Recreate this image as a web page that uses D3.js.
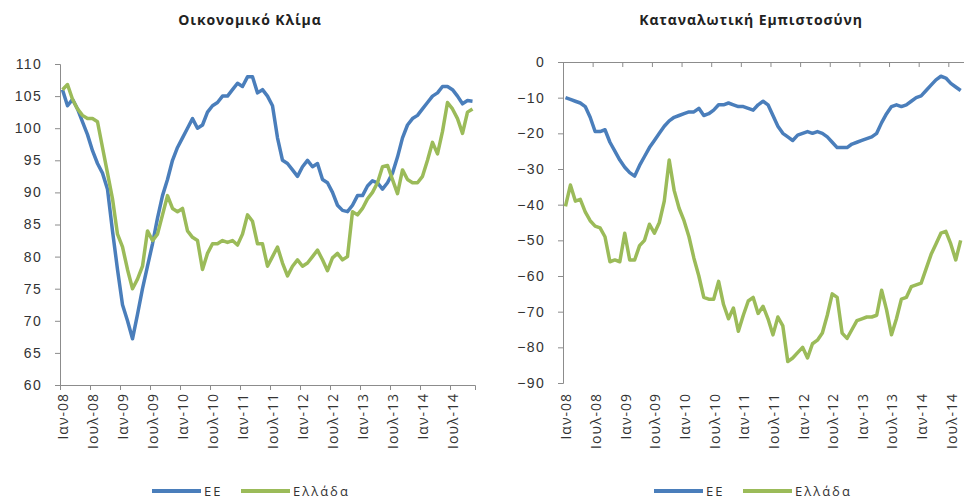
<!DOCTYPE html>
<html lang="el">
<head>
<meta charset="utf-8">
<title>Οικονομικό Κλίμα - Καταναλωτική Εμπιστοσύνη</title>
<script src="https://cdn.jsdelivr.net/npm/d3@7"></script>
<style>
    body { margin: 0; background: #fff; }
    svg { display: block; font-family: "Open Sans", "DejaVu Sans", sans-serif; }
    .title { font-weight: bold; font-size: 14px; fill: #222; letter-spacing: 0.9px; }
    .tick text { font-size: 14px; fill: #333; letter-spacing: 1.3px; }
    .domain, .tick line { stroke: #8c8c8c; }
    .xlab { font-size: 14px; fill: #333; letter-spacing: 1px; }
    .leg { font-size: 13px; fill: #333; letter-spacing: 2px; }
</style>
</head>
<body>
<svg width="964" height="503"></svg>
<script>
// months Jan 2008 .. Nov 2014 (index 0..82)
const months = d3.range(83)
const tickLabels = ["Ιαν-08", "Ιουλ-08", "Ιαν-09", "Ιουλ-09", "Ιαν-10", "Ιουλ-10", "Ιαν-11",
    "Ιουλ-11", "Ιαν-12", "Ιουλ-12", "Ιαν-13", "Ιουλ-13", "Ιαν-14", "Ιουλ-14"]
const seriesNames = ["ΕΕ", "Ελλάδα"]

// Οικονομικό Κλίμα
const climateEU = [106, 103.5, 104.5, 103, 101, 99, 96.5, 94.5, 93, 90.5, 84, 78,
    72.5, 70, 67.2, 71, 75, 78.5, 82, 86, 89.5, 92, 95, 97,
    98.5, 100, 101.5, 100, 100.5, 102.5, 103.5, 104, 105, 105, 106, 107,
    106.5, 108, 108, 105.5, 106, 105, 103.5, 98.5, 95, 94.5, 93.5, 92.5,
    94, 95, 94, 94.5, 92, 91.5, 90, 88, 87.2, 87, 88, 89.5,
    89.5, 91, 91.8, 91.5, 90.5, 91.5, 93, 95.5, 98.5, 100.5, 101.5, 102,
    103, 104, 105, 105.5, 106.5, 106.5, 106, 105, 103.8, 104.3, 104.2]
const climateGR = [106, 106.8, 104.5, 103, 102, 101.5, 101.5, 101, 97, 93, 89, 83.5,
    81.5, 78, 75, 76.5, 78.5, 84, 82.5, 83.5, 86.5, 89.5, 87.5, 87,
    87.5, 84, 83, 82.5, 78, 80.5, 82, 82, 82.5, 82.2, 82.5, 81.8,
    83.5, 86.5, 85.5, 82, 82, 78.5, 80, 81.5, 79, 77, 78.5, 79.5,
    78.5, 79, 80, 81, 79.5, 77.8, 79.8, 80.5, 79.5, 80, 87, 86.5,
    87.5, 89, 90, 91.5, 94, 94.2, 92, 89.8, 93.5, 92, 91.5, 91.5,
    92.5, 95, 97.8, 96, 99.5, 104, 103, 101.5, 99.2, 102.5, 103]

// Καταναλωτική Εμπιστοσύνη (the picture is cut after Sep 2014)
const confEU = [-10, -10.5, -11, -11.5, -12.5, -15.5, -19.5, -19.5, -19, -22.5, -25, -27.5,
    -29.5, -31, -32, -29, -26.5, -24, -22, -20, -18, -16.5, -15.5, -15,
    -14.5, -14, -14, -13, -15, -14.5, -13.5, -12, -12, -11.5, -12, -12.5,
    -12.5, -13, -13.5, -12, -11, -12, -15, -18, -20, -21, -22, -20.5,
    -20, -19.5, -20, -19.5, -20, -21, -22.5, -24, -24, -24, -23, -22.5,
    -22, -21.5, -21, -20, -17, -14.5, -12.5, -12, -12.5, -12, -11, -10,
    -9.5, -8, -6.5, -5, -4, -4.5, -6, -7, -8]
const confGR = [-40.5, -34.5, -39, -38.5, -42, -44.5, -46, -46.5, -49, -56, -55.5, -56,
    -48, -55.5, -55.5, -51.5, -50, -45.5, -48, -45, -39, -27.5, -36, -41,
    -44.5, -49, -55, -60, -66, -66.5, -66.5, -61.5, -68, -72, -69, -75.5,
    -71, -67, -66, -70.5, -68.5, -72, -76.5, -71.5, -74, -84, -83, -81.5,
    -80, -83, -79, -78, -76, -71, -65, -66, -76, -77.5, -75, -72.5,
    -72, -71.5, -71.5, -71, -64, -69.5, -76.5, -72, -66.5, -66, -63, -62.5,
    -62, -58, -54, -51, -48, -47.5, -51, -55.5, -50]

const colors = ["#4a7ebb", "#9bbb59"]

const svg = d3.select("svg")

function panel(opt) {
    const g = svg.append("g")
    const x = d3.scaleLinear().domain([0, months.length]).range([opt.x0, opt.x0 + opt.step * months.length])
    const y = d3.scaleLinear().domain(opt.yDomain).range([opt.yBottom, opt.yTop])

    g.append("text").attr("class", "title")
        .attr("x", opt.titleX).attr("y", 25)
        .attr("text-anchor", "middle")
        .text(opt.title)

    // y axis
    g.append("g")
        .attr("transform", `translate(${opt.x0},0)`)
        .call(d3.axisLeft(y).tickValues(d3.range(opt.yDomain[0], opt.yDomain[1] + 1, opt.yStep)).tickSize(5).tickPadding(13))

    // x axis (ticks only, at the category boundaries)
    const xAxisY = y(opt.xAxisAt)
    g.append("g")
        .attr("transform", `translate(0,${xAxisY})`)
        .call(d3.axisBottom(x).tickValues(d3.range(0, months.length, 6)).tickSize(5).tickFormat(""))

    // rotated labels at the bottom
    g.append("g").selectAll("text")
        .data(tickLabels)
        .join("text")
        .attr("class", "xlab")
        .attr("text-anchor", "end")
        .attr("dy", "0.35em")
        .attr("transform", (d, i) => `translate(${x(i * 6) + 3.5},393) rotate(-90)`)
        .text(d => d)

    const line = d3.line()
        .x((d, i) => x(i + 0.5))
        .y(d => y(d))

    opt.series.forEach((s, k) => {
        g.append("path")
            .datum(s)
            .attr("fill", "none")
            .attr("stroke", colors[k])
            .attr("stroke-width", 3.5)
            .attr("stroke-linejoin", "round")
            .attr("d", line)
    })

    // legend
    const leg = g.append("g").attr("transform", `translate(${opt.legX},491)`)
    const offs = [0, 89]
    seriesNames.forEach((n, k) => {
        leg.append("line")
            .attr("x1", offs[k]).attr("x2", offs[k] + 49)
            .attr("stroke", colors[k]).attr("stroke-width", 4)
        leg.append("text").attr("class", "leg")
            .attr("x", offs[k] + 52).attr("dy", "0.35em")
            .text(n)
    })
}

panel({
    title: "Οικονομικό Κλίμα", titleX: 250,
    x0: 60, step: 5, yDomain: [60, 110], yStep: 5, yTop: 64, yBottom: 385, xAxisAt: 60,
    series: [climateEU, climateGR], legX: 152
})

panel({
    title: "Καταναλωτική Εμπιστοσύνη", titleX: 751,
    x0: 563, step: 4.94, yDomain: [-90, 0], yStep: 10, yTop: 62, yBottom: 383, xAxisAt: 0,
    series: [confEU, confGR], legX: 654
})
</script>
</body>
</html>
